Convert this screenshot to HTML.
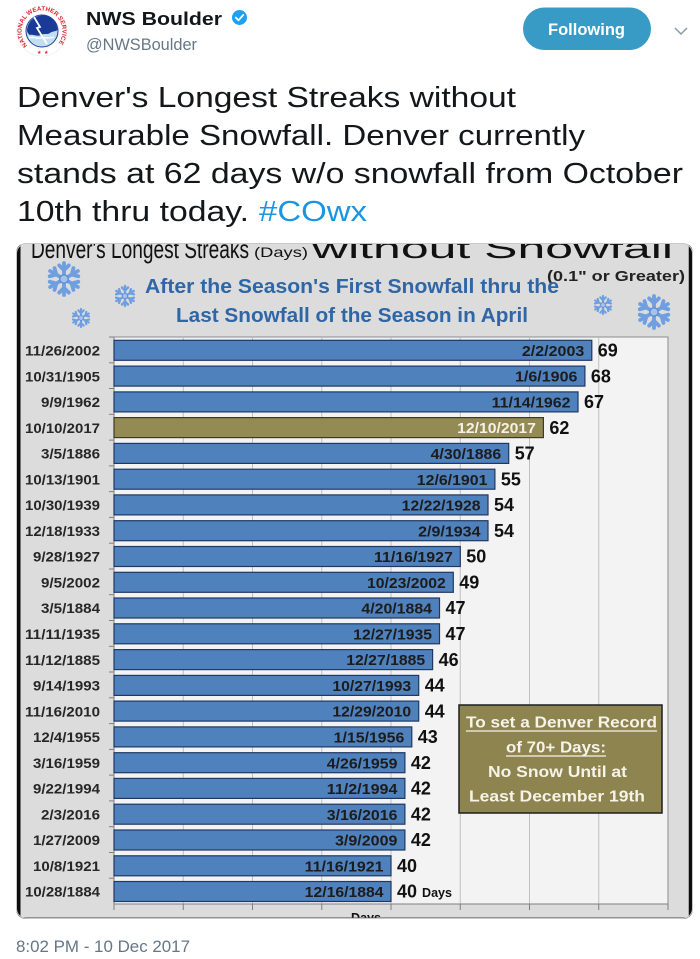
<!DOCTYPE html>
<html>
<head>
<meta charset="utf-8">
<style>
  html,body{margin:0;padding:0;background:#fff;}
  svg{display:block;}
  text{font-family:"Liberation Sans", Arial, sans-serif;}
</style>
</head>
<body>
<svg width="700" height="959" viewBox="0 0 700 959" xmlns="http://www.w3.org/2000/svg">
  <defs>
    <clipPath id="imgclip">
      <rect x="16" y="243" width="677" height="676" rx="10" ry="10"/>
    </clipPath>
    <g id="flake">
      <g stroke="#6f9fe0" stroke-width="2.4" stroke-linecap="round" fill="none">
        <line x1="0" y1="-10" x2="0" y2="10"/>
        <line x1="-8.66" y1="-5" x2="8.66" y2="5"/>
        <line x1="-8.66" y1="5" x2="8.66" y2="-5"/>
        <polyline points="-3,-8.5 0,-5.5 3,-8.5"/>
        <polyline points="-3,8.5 0,5.5 3,8.5"/>
        <polyline points="-8.9,-1.7 -4.8,-2.8 -5.9,-6.8"/>
        <polyline points="8.9,-1.7 4.8,-2.8 5.9,-6.8"/>
        <polyline points="-8.9,1.7 -4.8,2.8 -5.9,6.8"/>
        <polyline points="8.9,1.7 4.8,2.8 5.9,6.8"/>
      </g>
      <circle cx="0" cy="0" r="2.6" fill="#a4c2ee" stroke="#5a8ad0" stroke-width="0.8"/>
    </g>
  </defs>

  <!-- ===== Header ===== -->
  <circle cx="42" cy="31" r="25" fill="#ffffff" stroke="#e8e8e8" stroke-width="0.6"/>
  <path id="logoarc" d="M27.5,45.5 A20.5,20.5 0 1,1 56.5,45.5" fill="none"/>
  <text font-size="6" font-weight="bold" fill="#d1242a"><textPath href="#logoarc" textLength="93" lengthAdjust="spacingAndGlyphs">NATIONAL WEATHER SERVICE</textPath></text>
  <circle cx="42" cy="31" r="16" fill="#bfe0f2" stroke="#1d3f9a" stroke-width="1"/>
  <path d="M27,30 C28,20 36,15 44,15.5 C52,16 57,22 57.5,30 C55,32 52,31 50,33 C47,35 44,33 41,35 C37,37 33,34 30,35 C28,34 27,32 27,30 Z" fill="#1a3a98"/>
  <path d="M29,38 C33,36 37,39 41,38 C45,37 49,39 54,37" fill="none" stroke="#ffffff" stroke-width="1.4"/>
  <polyline points="34,17 40,27 37,28 47,44" fill="none" stroke="#ffffff" stroke-width="1.8"/>
  <text x="37" y="54" font-size="5" fill="#d1242a">★</text>
  <text x="44" y="54" font-size="5" fill="#d1242a">★</text>

  <text x="86" y="25" font-size="18.5" font-weight="bold" fill="#14171a" textLength="136" lengthAdjust="spacingAndGlyphs">NWS Boulder</text>
  <circle cx="239.5" cy="17.5" r="7.5" fill="#1da1f2"/>
  <polyline points="235.8,17.6 238.5,20.3 243.3,14.9" fill="none" stroke="#ffffff" stroke-width="1.8" stroke-linecap="round" stroke-linejoin="round"/>
  <text x="86" y="50" font-size="16.5" fill="#657786" textLength="111" lengthAdjust="spacingAndGlyphs">@NWSBoulder</text>

  <rect x="523" y="7.5" width="128" height="42.5" rx="21.25" fill="#389bc6"/>
  <text x="548" y="35" font-size="16.5" font-weight="bold" fill="#ffffff" textLength="77" lengthAdjust="spacingAndGlyphs">Following</text>
  <polyline points="675,28 681,34 687,28" fill="none" stroke="#8899a6" stroke-width="1.5"/>

  <!-- ===== Tweet text ===== -->
  <g font-size="29" fill="#14171a">
    <text x="17" y="107" textLength="499" lengthAdjust="spacingAndGlyphs">Denver's Longest Streaks without</text>
    <text x="17" y="145" textLength="568" lengthAdjust="spacingAndGlyphs">Measurable Snowfall. Denver currently</text>
    <text x="17" y="183" textLength="666" lengthAdjust="spacingAndGlyphs">stands at 62 days w/o snowfall from October</text>
    <text x="17" y="221" textLength="232" lengthAdjust="spacingAndGlyphs">10th thru today.</text>
    <text x="259" y="221" textLength="108" lengthAdjust="spacingAndGlyphs" fill="#1b95e0">#COwx</text>
  </g>

  <!-- ===== Chart image ===== -->
  <g clip-path="url(#imgclip)">
    <rect x="16" y="243" width="677" height="676" fill="#dcdcdc"/>

    <!-- Title (top cut off by image edge) -->
    <text x="31" y="258" font-size="26" fill="#111" textLength="218" lengthAdjust="spacingAndGlyphs">Denver's Longest Streaks</text>
    <text x="254" y="257" font-size="14" fill="#111" textLength="54" lengthAdjust="spacingAndGlyphs">(Days)</text>
    <text x="312" y="258" font-size="29" fill="#111" textLength="361" lengthAdjust="spacingAndGlyphs">without Snowfall</text>

    <text x="547" y="281" font-size="15" font-weight="bold" fill="#222" textLength="138" lengthAdjust="spacingAndGlyphs">(0.1" or Greater)</text>
    <text x="145" y="293" font-size="20" font-weight="bold" fill="#2f66a6" textLength="414" lengthAdjust="spacingAndGlyphs">After the Season's First Snowfall thru the</text>
    <text x="176" y="322" font-size="20" font-weight="bold" fill="#2f66a6" textLength="352" lengthAdjust="spacingAndGlyphs">Last Snowfall of the Season in April</text>

    <!-- Snowflakes -->
    <use href="#flake" transform="translate(64,279) scale(1.6)"/>
    <use href="#flake" transform="translate(125,296) scale(1.0)"/>
    <use href="#flake" transform="translate(81,318) scale(0.9)"/>
    <use href="#flake" transform="translate(603,305) scale(0.9)"/>
    <use href="#flake" transform="translate(654,312) scale(1.6)"/>

    <!-- Plot area -->
    <rect x="114" y="337" width="554" height="567" fill="#f3f3f3" stroke="#8c8c8c" stroke-width="1"/>
    <g stroke="#bfbfbf" stroke-width="1">
      <line x1="183.25" y1="337" x2="183.25" y2="904"/>
      <line x1="252.5" y1="337" x2="252.5" y2="904"/>
      <line x1="321.75" y1="337" x2="321.75" y2="904"/>
      <line x1="391" y1="337" x2="391" y2="904"/>
      <line x1="460.25" y1="337" x2="460.25" y2="904"/>
      <line x1="529.5" y1="337" x2="529.5" y2="904"/>
      <line x1="598.75" y1="337" x2="598.75" y2="904"/>
    </g>
    <g stroke="#7f7f7f" stroke-width="1">
      <line x1="114" y1="337" x2="114" y2="904"/>
      <line x1="114" y1="904" x2="668" y2="904"/>
      <line x1="114" y1="904" x2="114" y2="910"/>
      <line x1="183.25" y1="904" x2="183.25" y2="910"/>
      <line x1="252.5" y1="904" x2="252.5" y2="910"/>
      <line x1="321.75" y1="904" x2="321.75" y2="910"/>
      <line x1="391" y1="904" x2="391" y2="910"/>
      <line x1="460.25" y1="904" x2="460.25" y2="910"/>
      <line x1="529.5" y1="904" x2="529.5" y2="910"/>
      <line x1="598.75" y1="904" x2="598.75" y2="910"/>
      <line x1="668" y1="904" x2="668" y2="910"/>
      <line x1="109" y1="337" x2="114" y2="337"/>
      <line x1="109" y1="362.8" x2="114" y2="362.8"/>
      <line x1="109" y1="388.5" x2="114" y2="388.5"/>
      <line x1="109" y1="414.3" x2="114" y2="414.3"/>
      <line x1="109" y1="440.1" x2="114" y2="440.1"/>
      <line x1="109" y1="465.9" x2="114" y2="465.9"/>
      <line x1="109" y1="491.6" x2="114" y2="491.6"/>
      <line x1="109" y1="517.4" x2="114" y2="517.4"/>
      <line x1="109" y1="543.2" x2="114" y2="543.2"/>
      <line x1="109" y1="569" x2="114" y2="569"/>
      <line x1="109" y1="594.7" x2="114" y2="594.7"/>
      <line x1="109" y1="620.5" x2="114" y2="620.5"/>
      <line x1="109" y1="646.3" x2="114" y2="646.3"/>
      <line x1="109" y1="672" x2="114" y2="672"/>
      <line x1="109" y1="697.8" x2="114" y2="697.8"/>
      <line x1="109" y1="723.6" x2="114" y2="723.6"/>
      <line x1="109" y1="749.4" x2="114" y2="749.4"/>
      <line x1="109" y1="775.1" x2="114" y2="775.1"/>
      <line x1="109" y1="800.9" x2="114" y2="800.9"/>
      <line x1="109" y1="826.7" x2="114" y2="826.7"/>
      <line x1="109" y1="852.5" x2="114" y2="852.5"/>
      <line x1="109" y1="878.2" x2="114" y2="878.2"/>
    </g>

    <!-- Bars -->
    <g fill="#4f81bd" stroke="#1f3864" stroke-width="1.2">
      <rect x="114" y="340.3" width="477.8" height="20"/>
      <rect x="114" y="366.1" width="470.9" height="20"/>
      <rect x="114" y="391.9" width="464.0" height="20"/>
      <rect x="114" y="443.4" width="394.7" height="20"/>
      <rect x="114" y="469.2" width="380.9" height="20"/>
      <rect x="114" y="494.9" width="374.0" height="20"/>
      <rect x="114" y="520.7" width="374.0" height="20"/>
      <rect x="114" y="546.5" width="346.3" height="20"/>
      <rect x="114" y="572.3" width="339.3" height="20"/>
      <rect x="114" y="598.0" width="325.5" height="20"/>
      <rect x="114" y="623.8" width="325.5" height="20"/>
      <rect x="114" y="649.6" width="318.6" height="20"/>
      <rect x="114" y="675.4" width="304.7" height="20"/>
      <rect x="114" y="701.1" width="304.7" height="20"/>
      <rect x="114" y="726.9" width="297.8" height="20"/>
      <rect x="114" y="752.7" width="290.9" height="20"/>
      <rect x="114" y="778.4" width="290.9" height="20"/>
      <rect x="114" y="804.2" width="290.9" height="20"/>
      <rect x="114" y="830.0" width="290.9" height="20"/>
      <rect x="114" y="855.8" width="277.0" height="20"/>
      <rect x="114" y="881.5" width="277.0" height="20"/>
    </g>
    <rect x="114" y="417.6" width="429.4" height="20" fill="#948a54" stroke="#3d3a22" stroke-width="1.2"/>

    <!-- Category labels -->
    <g font-size="14" font-weight="bold" fill="#262626" text-anchor="end">
      <text x="100" y="355.5" textLength="75" lengthAdjust="spacingAndGlyphs">11/26/2002</text>
      <text x="100" y="381.3" textLength="75" lengthAdjust="spacingAndGlyphs">10/31/1905</text>
      <text x="100" y="407.1" textLength="59" lengthAdjust="spacingAndGlyphs">9/9/1962</text>
      <text x="100" y="432.8" textLength="75" lengthAdjust="spacingAndGlyphs">10/10/2017</text>
      <text x="100" y="458.6" textLength="59" lengthAdjust="spacingAndGlyphs">3/5/1886</text>
      <text x="100" y="484.4" textLength="75" lengthAdjust="spacingAndGlyphs">10/13/1901</text>
      <text x="100" y="510.1" textLength="75" lengthAdjust="spacingAndGlyphs">10/30/1939</text>
      <text x="100" y="535.9" textLength="75" lengthAdjust="spacingAndGlyphs">12/18/1933</text>
      <text x="100" y="561.7" textLength="67" lengthAdjust="spacingAndGlyphs">9/28/1927</text>
      <text x="100" y="587.5" textLength="59" lengthAdjust="spacingAndGlyphs">9/5/2002</text>
      <text x="100" y="613.2" textLength="59" lengthAdjust="spacingAndGlyphs">3/5/1884</text>
      <text x="100" y="639.0" textLength="75" lengthAdjust="spacingAndGlyphs">11/11/1935</text>
      <text x="100" y="664.8" textLength="75" lengthAdjust="spacingAndGlyphs">11/12/1885</text>
      <text x="100" y="690.6" textLength="67" lengthAdjust="spacingAndGlyphs">9/14/1993</text>
      <text x="100" y="716.3" textLength="75" lengthAdjust="spacingAndGlyphs">11/16/2010</text>
      <text x="100" y="742.1" textLength="67" lengthAdjust="spacingAndGlyphs">12/4/1955</text>
      <text x="100" y="767.9" textLength="67" lengthAdjust="spacingAndGlyphs">3/16/1959</text>
      <text x="100" y="793.6" textLength="67" lengthAdjust="spacingAndGlyphs">9/22/1994</text>
      <text x="100" y="819.4" textLength="59" lengthAdjust="spacingAndGlyphs">2/3/2016</text>
      <text x="100" y="845.2" textLength="67" lengthAdjust="spacingAndGlyphs">1/27/2009</text>
      <text x="100" y="871.0" textLength="67" lengthAdjust="spacingAndGlyphs">10/8/1921</text>
      <text x="100" y="896.7" textLength="75" lengthAdjust="spacingAndGlyphs">10/28/1884</text>
    </g>

    <!-- In-bar end-date labels -->
    <g font-size="15" font-weight="bold" fill="#1c1c1c" text-anchor="end">
      <text x="584.3" y="355.9" textLength="62.4" lengthAdjust="spacingAndGlyphs">2/2/2003</text>
      <text x="577.4" y="381.7" textLength="62.4" lengthAdjust="spacingAndGlyphs">1/6/1906</text>
      <text x="570.5" y="407.5" textLength="78.8" lengthAdjust="spacingAndGlyphs">11/14/1962</text>
      <text x="535.9" y="433.2" textLength="78.8" lengthAdjust="spacingAndGlyphs" fill="#f4f1e6">12/10/2017</text>
      <text x="501.2" y="459.0" textLength="70.6" lengthAdjust="spacingAndGlyphs">4/30/1886</text>
      <text x="487.4" y="484.8" textLength="70.6" lengthAdjust="spacingAndGlyphs">12/6/1901</text>
      <text x="480.5" y="510.5" textLength="78.8" lengthAdjust="spacingAndGlyphs">12/22/1928</text>
      <text x="480.5" y="536.3" textLength="62.4" lengthAdjust="spacingAndGlyphs">2/9/1934</text>
      <text x="452.8" y="562.1" textLength="78.8" lengthAdjust="spacingAndGlyphs">11/16/1927</text>
      <text x="445.8" y="587.9" textLength="78.8" lengthAdjust="spacingAndGlyphs">10/23/2002</text>
      <text x="432.0" y="613.6" textLength="70.6" lengthAdjust="spacingAndGlyphs">4/20/1884</text>
      <text x="432.0" y="639.4" textLength="78.8" lengthAdjust="spacingAndGlyphs">12/27/1935</text>
      <text x="425.1" y="665.2" textLength="78.8" lengthAdjust="spacingAndGlyphs">12/27/1885</text>
      <text x="411.2" y="691.0" textLength="78.8" lengthAdjust="spacingAndGlyphs">10/27/1993</text>
      <text x="411.2" y="716.7" textLength="78.8" lengthAdjust="spacingAndGlyphs">12/29/2010</text>
      <text x="404.3" y="742.5" textLength="70.6" lengthAdjust="spacingAndGlyphs">1/15/1956</text>
      <text x="397.4" y="768.3" textLength="70.6" lengthAdjust="spacingAndGlyphs">4/26/1959</text>
      <text x="397.4" y="794.0" textLength="70.6" lengthAdjust="spacingAndGlyphs">11/2/1994</text>
      <text x="397.4" y="819.8" textLength="70.6" lengthAdjust="spacingAndGlyphs">3/16/2016</text>
      <text x="397.4" y="845.6" textLength="62.4" lengthAdjust="spacingAndGlyphs">3/9/2009</text>
      <text x="383.5" y="871.4" textLength="78.8" lengthAdjust="spacingAndGlyphs">11/16/1921</text>
      <text x="383.5" y="897.1" textLength="78.8" lengthAdjust="spacingAndGlyphs">12/16/1884</text>
    </g>

    <!-- Value labels -->
    <g font-size="18" font-weight="bold" fill="#111">
      <text x="597.8" y="356.5" textLength="20" lengthAdjust="spacingAndGlyphs">69</text>
      <text x="590.9" y="382.3" textLength="20" lengthAdjust="spacingAndGlyphs">68</text>
      <text x="584.0" y="408.1" textLength="20" lengthAdjust="spacingAndGlyphs">67</text>
      <text x="549.4" y="433.8" textLength="20" lengthAdjust="spacingAndGlyphs">62</text>
      <text x="514.7" y="459.6" textLength="20" lengthAdjust="spacingAndGlyphs">57</text>
      <text x="500.9" y="485.4" textLength="20" lengthAdjust="spacingAndGlyphs">55</text>
      <text x="494.0" y="511.1" textLength="20" lengthAdjust="spacingAndGlyphs">54</text>
      <text x="494.0" y="536.9" textLength="20" lengthAdjust="spacingAndGlyphs">54</text>
      <text x="466.3" y="562.7" textLength="20" lengthAdjust="spacingAndGlyphs">50</text>
      <text x="459.3" y="588.5" textLength="20" lengthAdjust="spacingAndGlyphs">49</text>
      <text x="445.5" y="614.2" textLength="20" lengthAdjust="spacingAndGlyphs">47</text>
      <text x="445.5" y="640.0" textLength="20" lengthAdjust="spacingAndGlyphs">47</text>
      <text x="438.6" y="665.8" textLength="20" lengthAdjust="spacingAndGlyphs">46</text>
      <text x="424.7" y="691.6" textLength="20" lengthAdjust="spacingAndGlyphs">44</text>
      <text x="424.7" y="717.3" textLength="20" lengthAdjust="spacingAndGlyphs">44</text>
      <text x="417.8" y="743.1" textLength="20" lengthAdjust="spacingAndGlyphs">43</text>
      <text x="410.9" y="768.9" textLength="20" lengthAdjust="spacingAndGlyphs">42</text>
      <text x="410.9" y="794.6" textLength="20" lengthAdjust="spacingAndGlyphs">42</text>
      <text x="410.9" y="820.4" textLength="20" lengthAdjust="spacingAndGlyphs">42</text>
      <text x="410.9" y="846.2" textLength="20" lengthAdjust="spacingAndGlyphs">42</text>
      <text x="397.0" y="872.0" textLength="20" lengthAdjust="spacingAndGlyphs">40</text>
      <text x="397.0" y="897.7" textLength="20" lengthAdjust="spacingAndGlyphs">40</text>
    </g>
    <text x="422" y="897.2" font-size="13" font-weight="bold" fill="#111" textLength="30" lengthAdjust="spacingAndGlyphs">Days</text>

    <!-- Axis title (cut off at bottom) -->
    <text x="351" y="922" font-size="13" font-weight="bold" fill="#111" textLength="30" lengthAdjust="spacingAndGlyphs">Days</text>

    <!-- Callout box -->
    <rect x="459" y="705" width="203" height="108" fill="#8e8450" stroke="#1e1e1e" stroke-width="1.5"/>
    <g font-size="16" font-weight="bold" fill="#f6f3e8">
      <text x="466" y="727.5" textLength="191" lengthAdjust="spacingAndGlyphs">To set a Denver Record</text>
      <text x="506" y="752.5" textLength="100" lengthAdjust="spacingAndGlyphs">of 70+ Days:</text>
      <text x="488" y="777" textLength="139" lengthAdjust="spacingAndGlyphs">No Snow Until at</text>
      <text x="469" y="801.5" textLength="176" lengthAdjust="spacingAndGlyphs">Least December 19th</text>
    </g>
    <line x1="466" y1="731" x2="657" y2="731" stroke="#f6f3e8" stroke-width="1.2"/>
    <line x1="506" y1="756" x2="606" y2="756" stroke="#f6f3e8" stroke-width="1.2"/>

    <!-- Chart frame -->
    <line x1="18.5" y1="243" x2="18.5" y2="919" stroke="#0d0d0d" stroke-width="4"/>
    <line x1="690.5" y1="243" x2="690.5" y2="919" stroke="#0d0d0d" stroke-width="3.5"/>
    <line x1="16" y1="918.3" x2="693" y2="918.3" stroke="#4a4a4a" stroke-width="1.5"/>
  </g>
  <rect x="16.5" y="243.5" width="676" height="675" rx="10" ry="10" fill="none" stroke="#c8c8c8" stroke-width="1"/>

  <!-- Timestamp -->
  <text x="16" y="952" font-size="17" fill="#657786" textLength="174" lengthAdjust="spacingAndGlyphs">8:02 PM - 10 Dec 2017</text>
</svg>
</body>
</html>
